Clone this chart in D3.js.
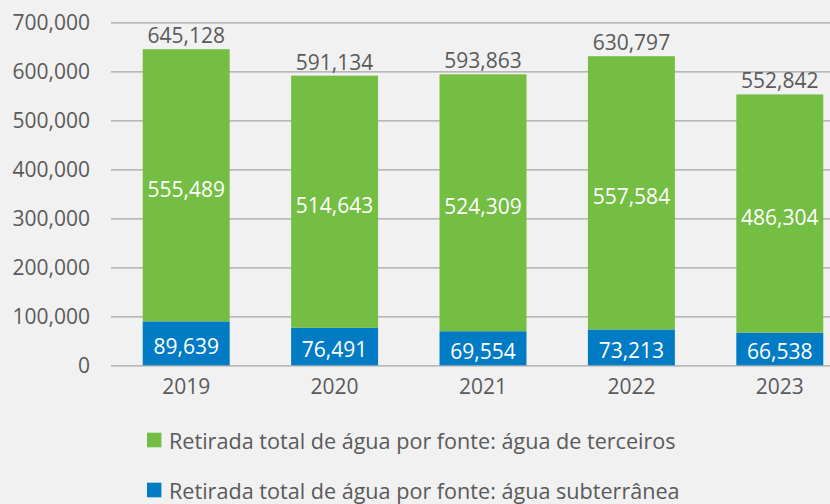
<!DOCTYPE html>
<html>
<head>
<meta charset="utf-8">
<script src="https://cdn.jsdelivr.net/npm/d3@7"></script>
<style>
  html, body { margin: 0; padding: 0; background: #f1f1f1; }
  svg { display: block; font-family: "Open Sans", "Noto Sans", sans-serif; }
</style>
</head>
<body>
<svg id="chart" width="830" height="504"></svg>
<script>
const years = ["2019", "2020", "2021", "2022", "2023"];
const terceiros = [555489, 514643, 524309, 557584, 486304];
const subterranea = [89639, 76491, 69554, 73213, 66538];
const totals = [645128, 591134, 593863, 630797, 552842];
const yTicks = [0, 100000, 200000, 300000, 400000, 500000, 600000, 700000];
const legendLabels = [
  "Retirada total de água por fonte: água de terceiros",
  "Retirada total de água por fonte: água subterrânea"
];

const green = "#74be44", blue = "#017bc4", textColor = "#5a5a5a", gridColor = "#a5a5a5";
const fmt = d3.format(",");

const svg = d3.select("#chart");
svg.append("rect").attr("width", 830).attr("height", 504).attr("fill", "#f1f1f1");

const y = d3.scaleLinear().domain([0, 700000]).range([365.3, 22.3]);
const x = d3.scaleBand().domain(years).range([112, 854]).paddingInner(0.414).paddingOuter(0.207);

// y axis with gridlines
const yAxis = svg.append("g").attr("transform", "translate(111,0)")
  .call(d3.axisLeft(y).tickValues(yTicks).tickFormat(fmt).tickSize(-719).tickPadding(21));
yAxis.select(".domain").remove();
yAxis.selectAll(".tick line").attr("stroke", gridColor).attr("stroke-width", 1.3);
yAxis.selectAll(".tick text").attr("fill", textColor).attr("font-size", 21).attr("font-family", "Open Sans");

// x axis labels
const xAxis = svg.append("g").attr("transform", "translate(0,365.3)")
  .call(d3.axisBottom(x).tickSize(0).tickPadding(14));
xAxis.select(".domain").remove();
xAxis.selectAll(".tick text").attr("fill", textColor).attr("font-size", 21).attr("font-family", "Open Sans");

const data = years.map((yr, i) => ({ yr, sub: subterranea[i], ter: terceiros[i], total: totals[i] }));

// blue segments
svg.append("g").selectAll("rect").data(data).join("rect")
  .attr("x", d => x(d.yr)).attr("width", x.bandwidth())
  .attr("y", d => y(d.sub)).attr("height", d => y(0) - y(d.sub))
  .attr("fill", blue);

// green segments
svg.append("g").selectAll("rect").data(data).join("rect")
  .attr("x", d => x(d.yr)).attr("width", x.bandwidth())
  .attr("y", d => y(d.total)).attr("height", d => y(d.sub) - y(d.total))
  .attr("fill", green);

// blue labels
svg.append("g").selectAll("text").data(data).join("text")
  .attr("x", d => x(d.yr) + x.bandwidth() / 2)
  .attr("y", d => (y(0) + y(d.sub)) / 2 + 3)
  .attr("dy", "0.35em").attr("text-anchor", "middle")
  .attr("fill", "#ffffff").attr("font-size", 21)
  .text(d => fmt(d.sub));

// green labels
svg.append("g").selectAll("text").data(data).join("text")
  .attr("x", d => x(d.yr) + x.bandwidth() / 2)
  .attr("y", d => (y(d.sub) + y(d.total)) / 2 + 4)
  .attr("dy", "0.35em").attr("text-anchor", "middle")
  .attr("fill", "#ffffff").attr("font-size", 21)
  .text(d => fmt(d.ter));

// total labels
svg.append("g").selectAll("text").data(data).join("text")
  .attr("x", d => x(d.yr) + x.bandwidth() / 2)
  .attr("y", d => y(d.total) - 6)
  .attr("text-anchor", "middle")
  .attr("fill", textColor).attr("font-size", 21)
  .text(d => fmt(d.total));

// legend
const legend = svg.append("g");
[green, blue].forEach((c, i) => {
  const base = 449 + i * 50;
  legend.append("rect").attr("x", 147).attr("y", base - 16.3).attr("width", 14.4).attr("height", 14.6).attr("fill", c);
  legend.append("text").attr("x", 169).attr("y", base)
    .attr("fill", textColor).attr("font-size", 21.6).text(legendLabels[i]);
});
</script>
</body>
</html>
